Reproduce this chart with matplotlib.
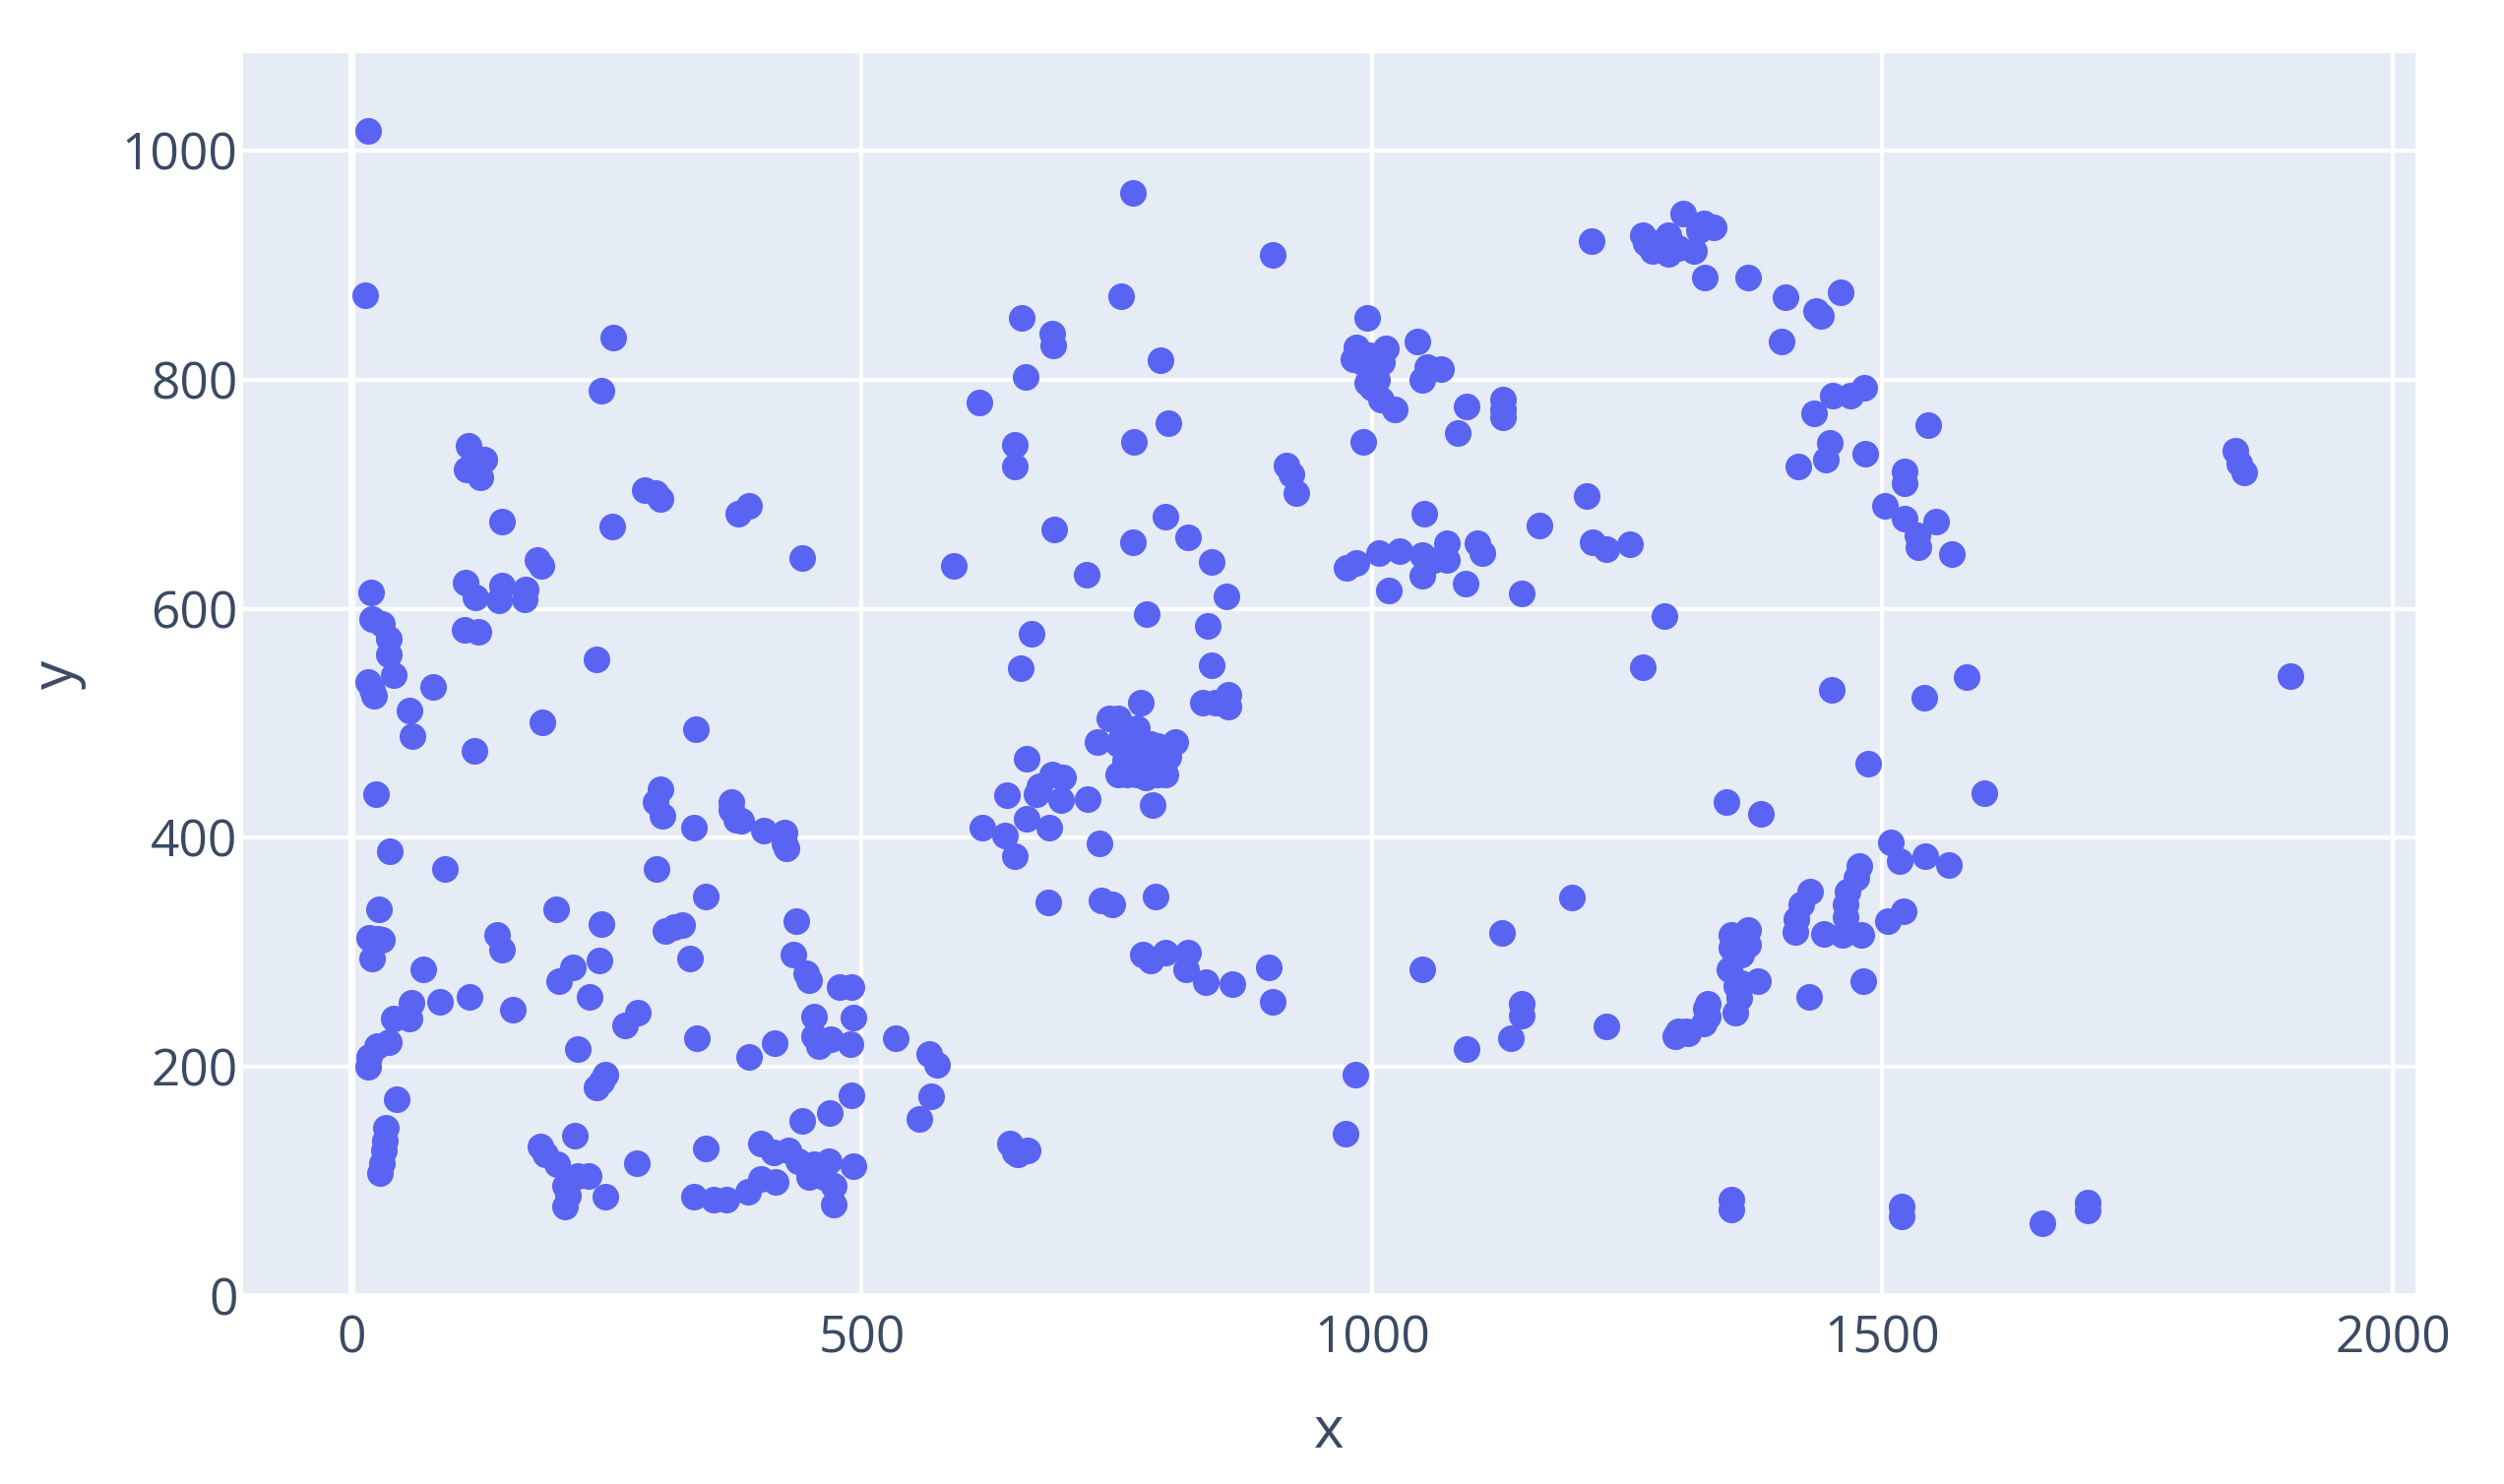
import matplotlib
matplotlib.use("Agg")
import matplotlib.pyplot as plt

# values, three groups by x range
x_left = [16, 14, 257, 245, 115, 123, 113, 126, 130, 287, 303, 298, 390, 379, 442, 148, 256, 186, 182, 112,
          122, 148, 145, 171, 170, 19, 20, 30, 111, 124, 240, 37, 37, 16, 22, 20, 42, 80, 57, 60,
          187, 338, 121, 24, 303, 298, 305, 372, 372, 377, 382, 336, 404, 424, 424, 426, 38, 92, 299, 347,
          201, 27, 245, 316, 308, 324, 436, 332, 433, 446, 448, 478, 490, 453, 492, 453, 458, 470, 489, 533,
          566, 574, 568, 556, 143, 148, 217, 204, 243, 233, 281, 268, 339, 222, 390, 415, 249, 240, 245, 44,
          34, 33, 32, 30, 28, 219, 185, 190, 202, 222, 232, 209, 212, 209, 249, 280, 347, 336, 355, 367,
          389, 401, 416, 401, 414, 428, 442, 469, 490, 438, 453, 468, 448, 463, 473, 473, 492, 16, 17, 25,
          37, 42, 57, 59, 87, 116, 158, 70, 26, 30, 17, 20]
y_left = [1017, 874, 837, 790, 742, 731, 722, 715, 730, 704, 696, 701, 690, 683, 644, 676, 672, 637, 643, 623,
          610, 620, 607, 617, 608, 614, 591, 587, 582, 580, 556, 574, 560, 536, 524, 529, 542, 532, 511, 489,
          501, 495, 476, 438, 442, 431, 419, 431, 424, 416, 415, 409, 406, 405, 395, 391, 388, 373, 373, 349,
          338, 338, 325, 322, 319, 324, 327, 295, 298, 282, 276, 270, 270, 244, 243, 227, 218, 224, 220, 225,
          211, 202, 174, 155, 315, 302, 287, 275, 293, 261, 247, 236, 225, 216, 209, 221, 193, 182, 187, 172,
          147, 136, 127, 116, 107, 140, 131, 124, 115, 105, 105, 96, 88, 78, 87, 116, 129, 87, 84, 84,
          91, 102, 100, 133, 125, 127, 153, 160, 175, 118, 115, 118, 104, 104, 96, 80, 113, 200, 209, 218,
          222, 242, 242, 256, 257, 261, 250, 285, 312, 311, 313, 295]

x_mid = [766, 903, 754, 657, 687, 688, 793, 661, 615, 650, 650, 800, 767, 916, 921, 926, 798, 689, 766, 820,
         843, 590, 720, 857, 779, 839, 666, 656, 843, 834, 847, 859, 859, 773, 743, 751, 731, 751, 770, 783,
         807, 751, 798, 770, 788, 758, 778, 800, 785, 662, 687, 697, 674, 642, 671, 695, 721, 662, 684, 733,
         618, 640, 650, 683, 735, 745, 788, 775, 783, 798, 820, 818, 837, 863, 899, 903, 984, 974, 645, 653,
         663, 650, 765, 775, 760, 790, 770, 780, 755, 790]
y_mid = [963, 909, 873, 854, 840, 830, 817, 802, 780, 743, 724, 762, 746, 725, 717, 701, 680, 669, 658, 662,
         641, 637, 630, 611, 595, 585, 578, 548, 551, 518, 518, 525, 515, 518, 504, 504, 484, 482, 496, 482,
         484, 455, 455, 467, 467, 467, 453, 471, 429, 469, 455, 453, 445, 437, 438, 433, 434, 417, 409, 395,
         409, 402, 384, 344, 345, 342, 349, 298, 293, 300, 300, 285, 274, 272, 287, 257, 193, 142, 133, 124,
         127, 125, 475, 480, 455, 480, 455, 462, 490, 455]

x_right = [991, 995, 985, 997, 1014, 1044, 982, 1000, 1000, 1009, 1022, 995, 1049, 1054, 1068, 1093, 1128, 1128, 1128, 1084,
           1051, 1164, 1210, 975, 985, 1007, 1027, 1049, 1073, 1073, 1061, 1103, 1108, 1049, 1016, 1092, 1147, 1216, 1230, 1253,
           1286, 1265, 1215, 1268, 1280, 1290, 1305, 1315, 1335, 1325, 1290, 1265, 1320, 1326, 1368, 1405, 1459, 1440, 1435, 1401,
           1482, 1469, 1451, 1433, 1545, 1448, 1445, 1483, 1418, 1522, 1522, 1502, 1522, 1534, 1535, 1553, 1568, 1846, 1850, 1854,
           1450, 1541, 1582, 1900, 1486, 1600, 1347, 1381, 1508, 1517, 1542, 1565, 1477, 1474, 1466, 1464, 1464, 1429, 1420, 1416,
           1415, 1443, 1461, 1479, 1521, 1505, 1368, 1352, 1368, 1352, 1362, 1350, 1378, 1362, 1357, 1360, 1356, 1481, 1428, 1329,
           1329, 1308, 1297, 1352, 1352, 1519, 1519, 1701, 1701, 1657, 1049, 1127, 1196, 1147, 1147, 1136, 1093, 1230, 1300, 1310,
           1327, 1325, 990, 1005, 1010, 1275, 1300]
y_right = [746, 854, 828, 821, 827, 833, 818, 807, 793, 783, 774, 797, 800, 811, 809, 777, 783, 767, 774, 753,
           683, 673, 698, 636, 640, 649, 650, 647, 657, 643, 643, 657, 649, 629, 616, 622, 613, 658, 652, 656,
           594, 549, 921, 919, 919, 910, 945, 912, 933, 936, 926, 926, 930, 889, 889, 872, 876, 856, 860, 833,
           793, 786, 786, 771, 760, 745, 730, 735, 724, 720, 710, 690, 679, 664, 654, 676, 648, 738, 727, 719,
           529, 522, 540, 541, 465, 439, 431, 421, 396, 380, 384, 376, 375, 365, 353, 342, 331, 353, 342, 329,
           318, 316, 315, 315, 336, 327, 320, 315, 307, 304, 298, 285, 275, 273, 271, 260, 247, 275, 261, 255,
           244, 231, 227, 84, 76, 78, 70, 82, 75, 64, 285, 317, 348, 255, 245, 225, 216, 235, 231, 229,
           251, 238, 815, 800, 815, 912, 915]

x_ticks = [0, 500, 1000, 1500, 2000]
y_ticks = [0, 200, 400, 600, 800, 1000]

W, H = 2544, 1508
plt.rcParams['font.family'] = ['Open Sans', 'DejaVu Sans']

fig = plt.figure(figsize=(W / 100, H / 100), dpi=100)
ax = fig.add_axes([247 / W, 1 - 1317 / H, (2453.5 - 247) / W, (1317 - 54) / H])
ax.set_facecolor('#E5ECF6')
for s in ax.spines.values():
    s.set_visible(False)

ax.set_xlim(-106, 2021.7)
ax.set_ylim(0, 1085)
ax.set_xticks(x_ticks)
ax.set_yticks(y_ticks)
ax.grid(True, color='white', linewidth=3)
ax.set_axisbelow(True)
ax.axvline(0, color='white', linewidth=5, zorder=1)
ax.axhline(0, color='white', linewidth=5, zorder=1, clip_on=False)

for xs, ys in [(x_left, y_left), (x_mid, y_mid), (x_right, y_right)]:
    ax.scatter(xs, ys, s=380, color='#5A64F2', linewidths=0, zorder=3)

ax.tick_params(length=0, labelsize=37, labelcolor='#3B4A63', pad=4)
ax.tick_params(axis='x', pad=13)
ax.set_xlabel('x', fontsize=42, color='#3B4A63')
ax.set_ylabel('y', fontsize=42, color='#3B4A63')
ax.xaxis.set_label_coords((1350 - 247) / (2453.5 - 247), -(1456 - 1317) / (1317 - 54), transform=ax.transAxes)
ax.yaxis.set_label_coords(-(247 - 59) / (2453.5 - 247), (1317 - 685) / (1317 - 54), transform=ax.transAxes)
ax.xaxis.label.set_va('center')
ax.yaxis.label.set_va('center')

fig.savefig('out.png', dpi=100, facecolor='white')
